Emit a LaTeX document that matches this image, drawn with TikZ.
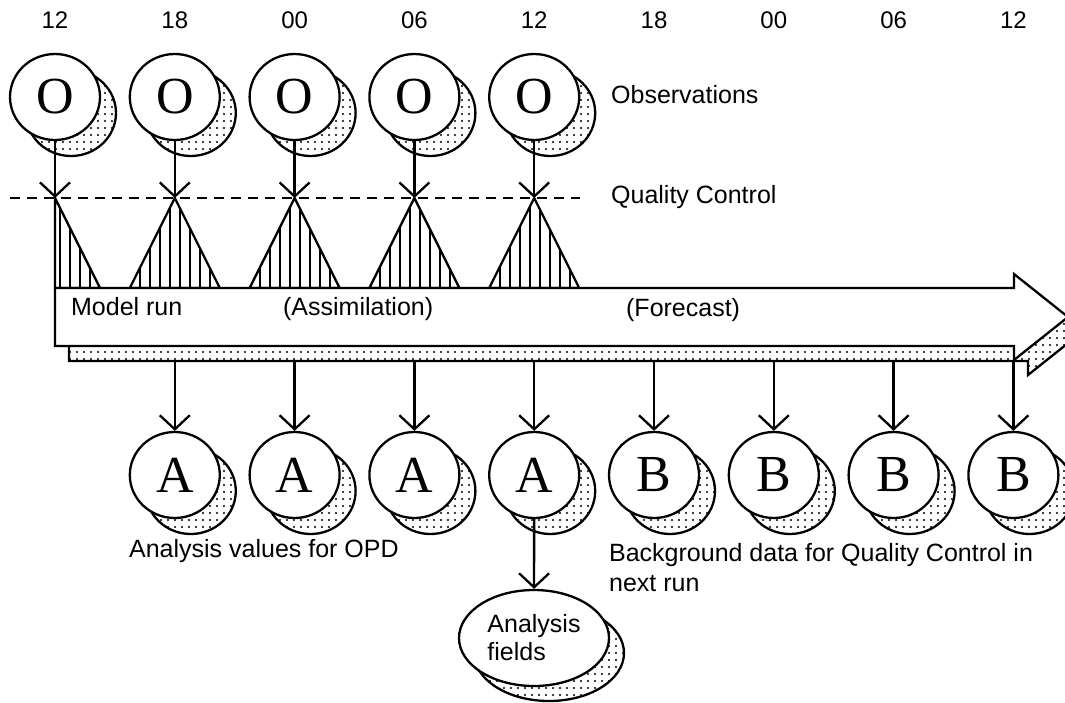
\documentclass[tikz,border=0pt]{standalone}
\usepackage{fontspec}
\setmainfont{Liberation Sans}
\newfontfamily\letterfont{Liberation Serif}
\usetikzlibrary{arrows.meta,shapes.geometric,patterns.meta}
\begin{document}
\begin{tikzpicture}[x=1pt,y=-1pt, line width=2.3pt,
  lbl/.style={font=\fontsize{25}{30}\selectfont, inner sep=0pt, anchor=base west},
  timelbl/.style={font=\fontsize{24}{28}\selectfont, inner sep=0pt},
  ball/.style={ellipse, draw, fill=white, minimum width=90pt, minimum height=86pt, inner sep=0pt, font=\letterfont\fontsize{52}{52}\selectfont},
  dotfill/.style={draw, pattern={Dots[distance=7pt, radius=1.2pt]}},
  hatch/.style={draw, pattern={Lines[angle=90, distance=10pt, line width=1.8pt]}},
  arr/.style={-{Straight Barb[length=14pt, width=30pt]}},
  qcline/.style={dash pattern=on 10pt off 7pt},
]
\useasboundingbox (0,0) rectangle (1065,702);
\clip (0,0) rectangle (1065,702);

% time labels
\foreach \i/\t in {0/12,1/18,2/00,3/06,4/12,5/18,6/00,7/06,8/12}{
  \pgfmathsetmacro\xx{55+119.8*\i}
  \node[timelbl] (t\i) at (\xx,20) {\t};
}

% observations
\foreach \i in {0,...,4}{
  \pgfmathsetmacro\xx{55+119.8*\i}
  \draw[dotfill] (\xx+16,113) ellipse [x radius=45, y radius=43];
  \node[ball] (o\i) at (\xx,97) {O};
  \coordinate (q\i) at (\xx,198);
}

% quality control dashed line
\coordinate (dl) at (10,198);
\coordinate (dr) at (580,198);
\draw[qcline] (dl) -- (dr);

% hatched triangles
\draw[hatch] (q0) -- (100,288) -- (55,288) -- cycle;
\foreach \i in {1,...,4}{
  \pgfmathsetmacro\xx{55+119.8*\i}
  \draw[hatch] (q\i) -- (\xx+45,288) -- (\xx-45,288) -- cycle;
}
\foreach \i in {0,...,4}{
  \draw[arr] (o\i) -- (q\i);
}

% big arrow: shadow then front
\draw[dotfill] (69,303) -- (1028,303) -- (1028,289) -- (1082,332) -- (1028,375) -- (1028,361) -- (69,361) -- cycle;
\draw[fill=white] (55,288) -- (1014,288) -- (1014,274) -- (1068,317) -- (1014,360) -- (1014,346) -- (55,346) -- cycle;

% analysis / background circles
\foreach \i in {1,...,8}{
  \pgfmathsetmacro\xx{55+119.8*\i}
  \pgfmathsetmacro\lt{\i<5 ? "A" : "B"}
  \coordinate (s\i) at (\xx,361);
  \draw[dotfill] (\xx+16,491) ellipse [x radius=45, y radius=43];
  \node[ball] (c\i) at (\xx,475) {\lt};
  \draw[arr] (s\i) -- (c\i);
}

% analysis fields
\draw[dotfill] (549,653) ellipse [x radius=75, y radius=48];
\node[ellipse, draw, fill=white, minimum width=150pt, minimum height=96pt, inner sep=0pt,
  align=left, font=\fontsize{25}{28}\selectfont] (af) at (534,638) {Analysis\\fields};
\draw[arr] (c4) -- (af);

% labels
\node[lbl] (obs) at (610,103) {Observations};
\node[lbl] (qc) at (610,203) {Quality Control};
\node[lbl] (mr) at (70,315) {Model run};
\node[lbl] (as) at (282,315) {(Assimilation)};
\node[lbl] (fc) at (625,316) {(Forecast)};
\node[lbl] (av) at (128,557) {Analysis values for OPD};
\node[lbl, anchor=north west, align=left] (bg) at (608,542) {Background data for Quality Control in\\next run};
\end{tikzpicture}
\end{document}
